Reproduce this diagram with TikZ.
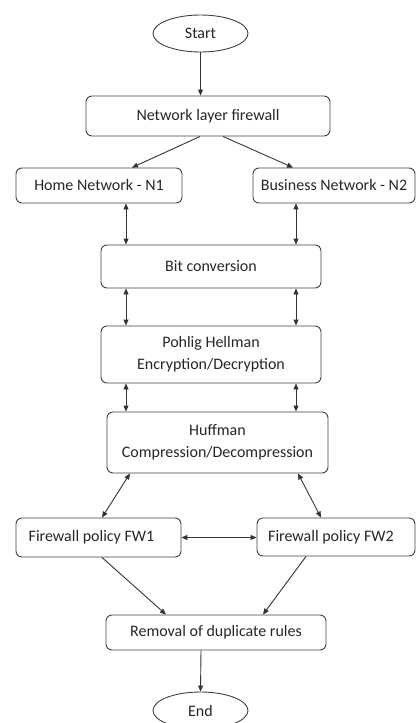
\documentclass[tikz,border=0pt]{standalone}
\usepackage{fontspec}
\setmainfont{Carlito}
\usetikzlibrary{shapes.geometric,arrows.meta,calc}
\begin{document}
\begin{tikzpicture}[x=1pt,y=-1pt,
  line width=0.9pt,
  every node/.style={font=\fontsize{16}{20}\selectfont, text=black!85, draw=black!75, inner sep=0pt, align=center},
  box/.style={rectangle, rounded corners=6pt},
  term/.style={ellipse},
  arr/.style={draw=black!80, -{Triangle[length=6pt,width=5pt]}},
  darr/.style={draw=black!80, {Triangle[length=6pt,width=5pt]}-{Triangle[length=6pt,width=5pt]}}]
\useasboundingbox (0,0) rectangle (416,723);
\clip (0,0) rectangle (416,723);
\node[term, minimum width=95pt, minimum height=37pt] (start) at (200.5,33.5) {Start};
\node[box, minimum width=244pt, minimum height=40pt] (nlf) at (208,116) {Network layer firewall};
\node[box, minimum width=166pt, minimum height=35pt] (home) at (99,185.5) {Home Network - N1};
\node[box, minimum width=162pt, minimum height=35pt] (bus) at (334,185.5) {Business Network - N2};
\node[box, minimum width=220pt, minimum height=43pt] (bit) at (211,266.5) {Bit conversion};
\node[box, minimum width=220pt, minimum height=57pt] (poh) at (211,354.5) {Pohlig Hellman\\[2pt]Encryption/Decryption};
\node[box, minimum width=221pt, minimum height=61pt] (huf) at (217.5,442.5) {Huffman\\[2pt]Compression/Decompression};
\node[box, minimum width=165pt, minimum height=39pt] (fw1) at (98.5,537.5) {\hspace*{-14pt}Firewall policy FW1};
\node[box, minimum width=158pt, minimum height=38pt] (fw2) at (336,537) {\hspace*{-10pt}Firewall policy FW2};
\node[box, minimum width=220pt, minimum height=35pt] (rem) at (216,632.5) {Removal of duplicate rules};
\node[term, minimum width=95pt, minimum height=37pt] (end) at (200.5,710.5) {End};
\draw[arr] (start) -- (start.south |- nlf.north);
\draw[arr] ([xshift=-8pt]nlf.south) -- ([xshift=33pt]home.north);
\draw[arr] ([xshift=15pt]nlf.south) -- ([xshift=-41pt]bus.north);
\draw[darr] ([xshift=27pt]home.south) -- ([xshift=27pt]home.south |- bit.north);
\draw[darr] ([xshift=-38pt]bus.south) -- ([xshift=-38pt]bus.south |- bit.north);
\draw[darr] ([xshift=-85pt]bit.south) -- ([xshift=-85pt]bit.south |- poh.north);
\draw[darr] ([xshift=85pt]bit.south) -- ([xshift=85pt]bit.south |- poh.north);
\draw[darr] ([xshift=-85pt]poh.south) -- ([xshift=-85pt]poh.south |- huf.north);
\draw[darr] ([xshift=85pt]poh.south) -- ([xshift=85pt]poh.south |- huf.north);
\draw[darr] ([xshift=-87.5pt]huf.south) -- ([xshift=3.5pt]fw1.north);
\draw[darr] ([xshift=80.5pt]huf.south) -- ([xshift=-15pt]fw2.north);
\draw[darr] (fw1.east) -- (fw1.east -| fw2.west);
\draw[arr] ([xshift=3.5pt]fw1.south) -- ([xshift=-50pt]rem.north);
\draw[arr] ([xshift=-30pt]fw2.south) -- ([xshift=47pt]rem.north);
\draw[arr] ([xshift=-15pt]rem.south) -- (end.north);
\end{tikzpicture}
\end{document}
